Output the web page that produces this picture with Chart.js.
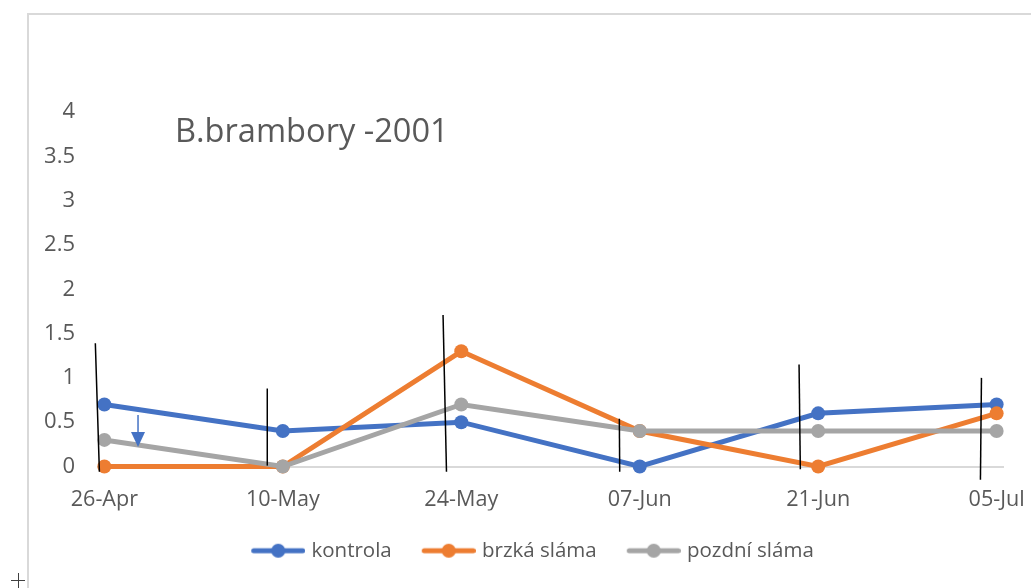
<!DOCTYPE html>
<html>
<head>
<meta charset="utf-8">
<script src="https://cdn.jsdelivr.net/npm/chart.js@4.4.1/dist/chart.umd.min.js"></script>
<style>
  html, body { margin: 0; padding: 0; background: #ffffff; }
  #wrap { width: 1031px; height: 588px; position: relative; }
</style>
</head>
<body>
<div id="wrap"><canvas id="c" width="1031" height="588"></canvas></div>
<script>
// ---- data ----
const tickLabels = ['26-Apr', '10-May', '24-May', '07-Jun', '21-Jun', '05-Jul'];
const dayOffsets = [0, 14, 28, 42, 56, 70];           // days since 26-Apr
const kontrola    = [0.7, 0.4, 0.5, 0.0, 0.6, 0.7];
const brzkaSlama  = [0.0, 0.0, 1.3, 0.4, 0.0, 0.6];
const pozdniSlama = [0.3, 0.0, 0.7, 0.4, 0.4, 0.4];
const seriesNames = ['kontrola', 'brzká sláma', 'pozdní sláma'];
const yTicks = [0, 0.5, 1, 1.5, 2, 2.5, 3, 3.5, 4];
const chartTitle = 'B.brambory -2001';
// hand-drawn marks on the original (in data units: day, value)
const markLines = [
  [-0.71, 1.39, -0.39, -0.06],
  [12.78, 0.88, 12.78, 0.01],
  [26.57, 1.71, 26.84, -0.06],
  [40.40, 0.54, 40.43, -0.06],
  [54.50, 1.15, 54.60, -0.03],
  [68.81, 1.00, 68.73, -0.15]
];
const arrowMark = [2.64, 0.58, 0.22]; // x, yFrom, yTo

const colors = ['#4472C4', '#ED7D31', '#A5A5A5'];
const FONT = "'Open Sans', 'Noto Sans', sans-serif";
const TXT = '#595959';

function pts(arr) { return arr.map((v, i) => ({ x: dayOffsets[i], y: v })); }

function legendSymbol(color) {
  const c = document.createElement('canvas');
  c.width = 58; c.height = 16;
  const g = c.getContext('2d');
  g.strokeStyle = color; g.lineWidth = 5; g.lineCap = 'round';
  g.beginPath(); g.moveTo(6.5, 8); g.lineTo(55.5, 8); g.stroke();
  g.fillStyle = color;
  g.beginPath(); g.arc(31, 8, 7, 0, Math.PI * 2); g.fill();
  return c;
}

const decor = {
  id: 'decor',
  afterLayout(chart) {
    // let the y tick labels use the space left of the axis box
    chart.scales.y.left = 0;
  },
  beforeDraw(chart) {
    const ctx = chart.ctx;
    ctx.save();
    ctx.strokeStyle = '#D9D9D9';
    ctx.lineWidth = 2;
    ctx.strokeRect(28, 14, 1100, 700);
    // small cross at bottom left
    ctx.strokeStyle = '#404040';
    ctx.lineWidth = 1;
    ctx.beginPath();
    ctx.moveTo(11, 580.5); ctx.lineTo(25, 580.5);
    ctx.moveTo(18.5, 573); ctx.lineTo(18.5, 588);
    ctx.stroke();
    ctx.restore();
  },
  afterDatasetsDraw(chart) {
    const ctx = chart.ctx, xs = chart.scales.x, ys = chart.scales.y;
    ctx.save();
    ctx.strokeStyle = '#000000';
    ctx.lineWidth = 1.5;
    markLines.forEach(m => {
      ctx.beginPath();
      ctx.moveTo(xs.getPixelForValue(m[0]), ys.getPixelForValue(m[1]));
      ctx.lineTo(xs.getPixelForValue(m[2]), ys.getPixelForValue(m[3]));
      ctx.stroke();
    });
    // blue arrow
    const ax = xs.getPixelForValue(arrowMark[0]);
    const ay0 = ys.getPixelForValue(arrowMark[1]);
    const ay1 = ys.getPixelForValue(arrowMark[2]);
    ctx.strokeStyle = '#4472C4';
    ctx.fillStyle = '#4472C4';
    ctx.lineWidth = 1.5;
    ctx.beginPath(); ctx.moveTo(ax, ay0); ctx.lineTo(ax, ay1 - 12); ctx.stroke();
    ctx.beginPath();
    ctx.moveTo(ax - 7, ay1 - 15); ctx.lineTo(ax + 7, ay1 - 15); ctx.lineTo(ax, ay1); ctx.closePath();
    ctx.fill();
    // title inside the plot
    ctx.fillStyle = TXT;
    ctx.font = '32.6px ' + FONT;
    ctx.textBaseline = 'alphabetic';
    ctx.textAlign = 'left';
    ctx.fillText(chartTitle, 175, 142);
    ctx.restore();
  }
};

const ds = [kontrola, brzkaSlama, pozdniSlama].map((arr, i) => ({
  label: seriesNames[i],
  data: pts(arr),
  borderColor: colors[i],
  backgroundColor: colors[i],
  pointBackgroundColor: colors[i],
  pointBorderColor: colors[i],
  pointBorderWidth: 0,
  pointRadius: 7,
  pointHoverRadius: 7,
  borderWidth: 5,
  tension: 0,
  clip: false,
  order: 3 - i,
  pointStyle: 'circle'
}));

new Chart(document.getElementById('c'), {
  type: 'line',
  data: { datasets: ds },
  plugins: [decor],
  options: {
    responsive: false,
    animation: false,
    events: [],
    layout: { padding: { left: 62, right: 28, top: 112, bottom: 17 } },
    scales: {
      x: {
        type: 'linear',
        min: -0.5, max: 70.5,
        afterBuildTicks(s) { s.ticks = dayOffsets.map(v => ({ value: v })); },
        afterFit(s) { s.height = 44; s.paddingLeft = 0; s.paddingRight = 0; },
        grid: { display: false, drawTicks: false },
        border: { display: true, color: '#D9D9D9', width: 2 },
        ticks: {
          autoSkip: false, maxRotation: 0, padding: 20,
          color: TXT, font: { family: FONT, size: 21.6 },
          callback: (v) => tickLabels[dayOffsets.indexOf(v)]
        }
      },
      y: {
        min: 0, max: 4,
        afterBuildTicks(s) { s.ticks = yTicks.map(v => ({ value: v })); },
        afterFit(s) { s.width = 36; s.paddingTop = 0; s.paddingBottom = 0; },
        grid: { display: false, drawTicks: false },
        border: { display: false },
        ticks: {
          padding: 23, color: TXT, font: { family: FONT, size: 22 },
          callback: (v) => String(v)
        }
      }
    },
    plugins: {
      title: { display: false },
      tooltip: { enabled: false },
      legend: {
        position: 'bottom',
        labels: {
          usePointStyle: true,
          pointStyleWidth: 50,
          padding: 30,
          color: TXT,
          font: { family: FONT, size: 20.5 },
          sort: (a, b) => a.datasetIndex - b.datasetIndex,
          generateLabels(chart) {
            return chart.data.datasets.map((d, i) => ({
              text: d.label,
              datasetIndex: i,
              fillStyle: colors[i],
              strokeStyle: colors[i],
              lineWidth: 0,
              fontColor: TXT,
              hidden: false,
              pointStyle: legendSymbol(colors[i])
            }));
          }
        }
      }
    }
  }
});
</script>
</body>
</html>
